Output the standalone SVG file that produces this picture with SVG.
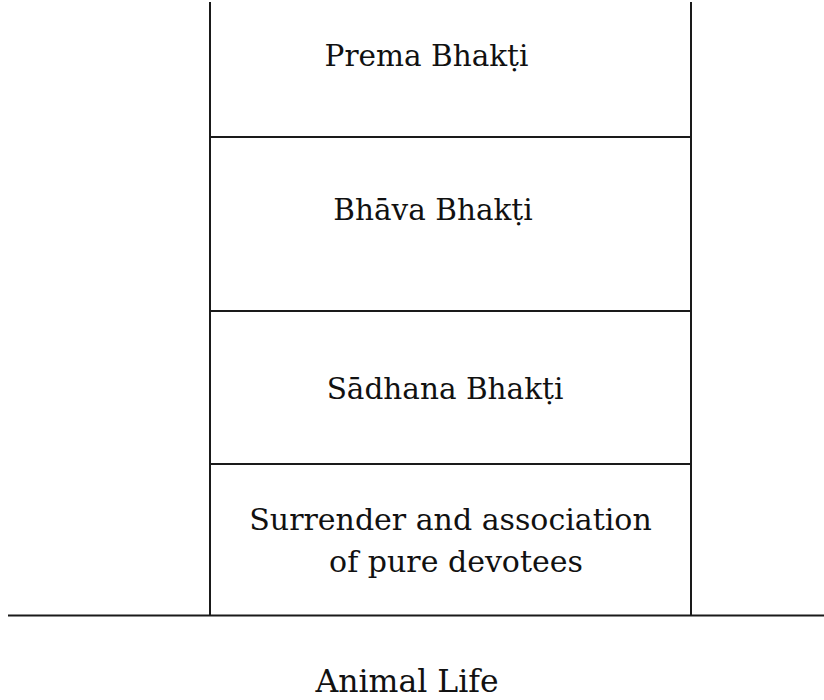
<svg xmlns="http://www.w3.org/2000/svg" width="824" height="700" viewBox="0 0 824 700">
<style>
.ln{stroke:#1a1a1a;stroke-width:2;fill:none}
.t{font-family:"DejaVu Serif","Liberation Serif",serif;font-size:29.5px;fill:#111;text-anchor:middle}
</style>
<rect width="824" height="700" fill="#fff"/>
<g id="connectors">
<line class="ln" x1="210" y1="2" x2="210" y2="616"/>
<line class="ln" x1="691" y1="2" x2="691" y2="616"/>
<line class="ln" x1="210" y1="137" x2="691" y2="137"/>
<line class="ln" x1="210" y1="311" x2="691" y2="311"/>
<line class="ln" x1="210" y1="464" x2="691" y2="464"/>
<line class="ln" x1="8" y1="615.5" x2="824" y2="615.5"/>
</g>
<g id="prema"><text class="t" x="426.5" y="66">Prema Bhakṭi</text></g>
<g id="bhava"><text class="t" x="433" y="220">Bhāva Bhakṭi</text></g>
<g id="sadhana"><text class="t" x="445" y="399">Sādhana Bhakṭi</text></g>
<g id="surrender"><text class="t" x="450.5" y="530" style="font-size:30px">Surrender and association</text><text class="t" x="456" y="572" style="font-size:30px">of pure devotees</text></g>
<g id="animal"><text class="t" x="407" y="692" style="font-size:31.5px">Animal Life</text></g>
</svg>
